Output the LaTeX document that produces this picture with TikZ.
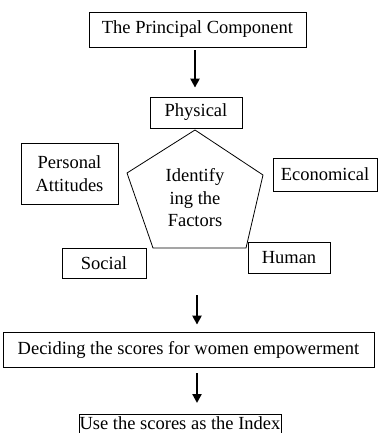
\documentclass[tikz,border=0pt]{standalone}
\usepackage{fontspec}
\setmainfont{Liberation Serif}
\usetikzlibrary{arrows.meta}
\begin{document}
\begin{tikzpicture}[x=1pt,y=-1pt,
  txt/.style={font=\fontsize{18.5}{22.5}\selectfont},
  box/.style={draw,line width=0.8pt,inner sep=0pt,align=center,txt},
  flow/.style={line width=2.2pt,-{Triangle[length=9pt,width=9pt]}}]
\useasboundingbox (0,0) rectangle (378,433);
\clip (0,0) rectangle (378,433);
\node[box,minimum width=217pt,minimum height=35pt] (top) at (197.5,29.5) {The Principal Component};
\node[box,minimum width=92pt,minimum height=31pt] (phys) at (196,112.5) {Physical};
\coordinate (pt) at (195,130);
\coordinate (pl) at (127,173);
\coordinate (pr) at (263,175);
\coordinate (pbl) at (153,248);
\coordinate (pbr) at (246,248);
\draw[line width=0.8pt] (pt) -- (pr) -- (pbr) -- (pbl) -- (pl) -- cycle;
\node[align=center,txt,inner sep=0pt] (ident) at (195,198) {Identify\\ing the\\Factors};
\node[box,minimum width=97pt,minimum height=61pt] (pers) at (69.5,173.5) {Personal\\Attitudes};
\node[box,minimum width=104pt,minimum height=33pt] (econ) at (325,174.5) {Economical};
\node[box,minimum width=84pt,minimum height=30pt] (soc) at (104,263) {Social};
\node[box,minimum width=82pt,minimum height=31pt] (hum) at (289,257.5) {Human};
\coordinate (a2) at (197,295);
\node[box,minimum width=371pt,minimum height=35pt] (dec) at (188.5,349.5) {Deciding the scores for women empowerment};
\node[box,minimum width=202pt,minimum height=32pt,anchor=north] (use) at (180,414) {};
\node[txt,inner sep=0pt] (uset) at (180,423) {Use the scores as the Index};
\draw[flow,shorten <=3pt,shorten >=9pt] (top.south -| 195,0) -- (phys.north -| 195,0);
\draw[flow,shorten >=7pt] (a2) -- (dec.north -| a2);
\draw[flow,shorten <=6pt,shorten >=11pt] (dec.south -| a2) -- (use.north -| a2);
\end{tikzpicture}
\end{document}
